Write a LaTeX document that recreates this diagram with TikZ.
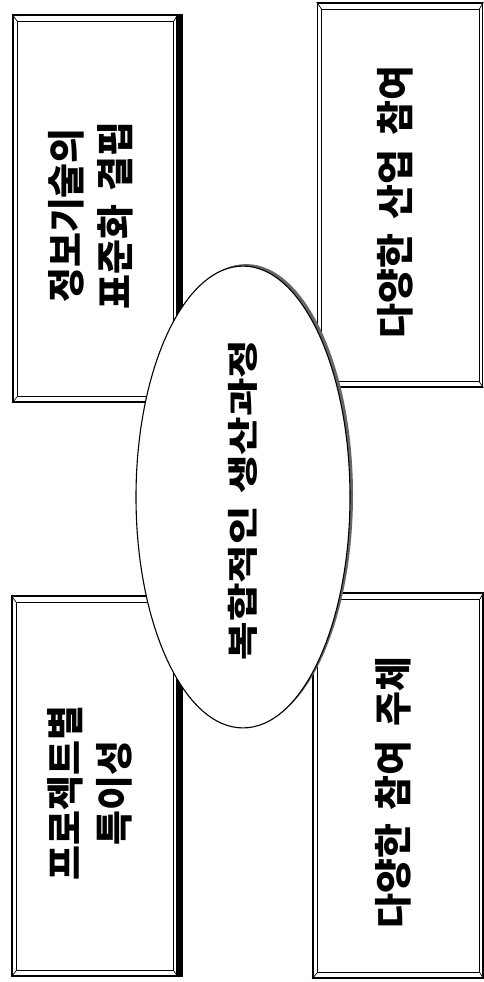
\documentclass[tikz,border=0pt]{standalone}
\usepackage{fontspec}
\usepackage{graphicx}
\usetikzlibrary{shapes.geometric,shadows}
\newfontfamily\kr[WordSpace=1.6]{Noto Sans CJK KR}
\newcommand{\rottext}[1]{\rotatebox{90}{\begin{tabular}{@{}c@{}}#1\end{tabular}\hspace*{14pt}}}
\tikzset{
	frame/.style={draw, line width=1.8pt, inner sep=0pt, font=\kr\bfseries\fontsize{38}{49}\selectfont},
}
\begin{document}
\begin{tikzpicture}[x=1pt, y=-1pt, line join=miter]
	\useasboundingbox (0,0) rectangle (484,982);
	% four framed boxes
	\foreach \n/\x/\y/\w/\h/\t in
	{ tl/95/208.5/164/387/{정보기술의\\표준화 결핍},
		tr/400/195/165/384/{다양한 산업 참여},
		bl/94.5/786/165/380/{프로젝트별\\특이성},
		br/398/785.5/170/385/{다양한 참여 주체}
	}
	\node[frame, minimum width=\w pt, minimum height=\h pt] (\n) at (\x,\y) {\rottext{\t}};
	\foreach \n in {tl,tr,bl,br} {
		\draw[line width=0.9pt] ([xshift=5pt,yshift=-7pt]\n.north west) rectangle ([xshift=-4pt,yshift=6pt]\n.south east);
		\draw[line width=0.7pt] (\n.north west) -- ++(5pt,-7pt) (\n.north east) -- ++(-4pt,-7pt)
			(\n.south west) -- ++(5pt,6pt) (\n.south east) -- ++(-4pt,6pt);
	}
	\foreach \n in {tl,bl} \draw[line width=5pt] ([xshift=2.5pt]\n.north east) -- ([xshift=2.5pt]\n.south east);
	% centre
	\node[ellipse, draw, fill=white, line width=1.1pt, minimum width=214pt, minimum height=414pt, inner sep=0pt,
		drop shadow={shadow xshift=3pt, shadow yshift=2pt, fill=black!60, opacity=1}] (core) at (243,497)
		{\kr\bfseries\fontsize{31}{38}\selectfont\rotatebox{90}{\scalebox{1.35}[1]{복합적인\hspace{0.3em}생산과정}\hspace*{6pt}}};
\end{tikzpicture}
\end{document}
